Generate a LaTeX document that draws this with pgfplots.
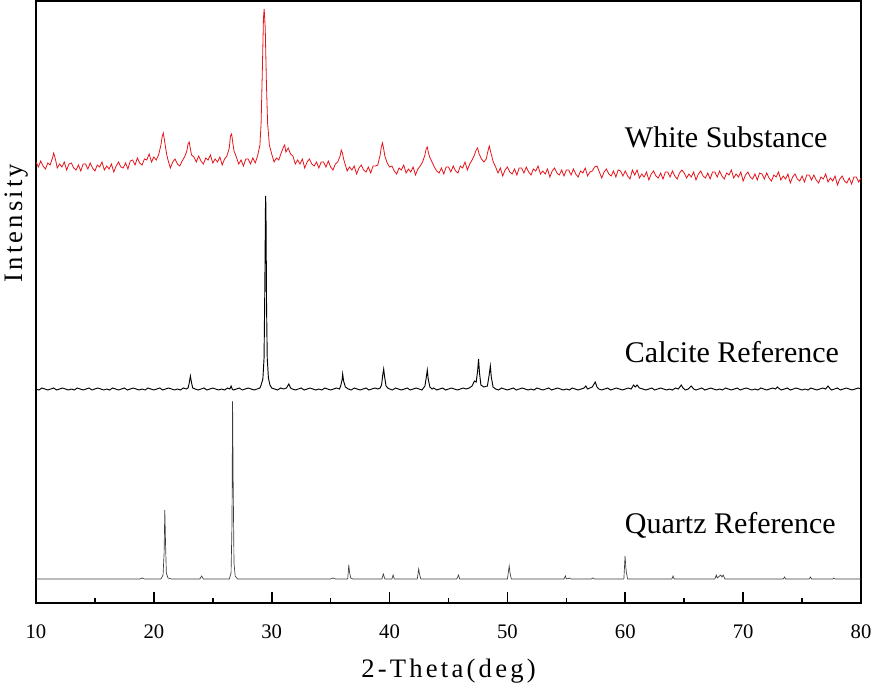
\documentclass[border=0pt]{standalone}
\usepackage{pgfplots}
\pgfplotsset{compat=1.18}
\usepackage{fontspec}
\setmainfont{Liberation Serif}
\newfontfamily\labfont[LetterSpace=12]{Liberation Serif}
\definecolor{wred}{RGB}{230,20,26}
\definecolor{qgray}{RGB}{60,60,60}

\pgfplotstableread{
x y
10.0 441
10.2 436
10.4 442
10.6 437
10.8 434
11.0 440
11.2 438
11.4 445
11.5 450
11.6 446
11.7 441
11.8 435
12.0 439
12.2 436
12.4 441
12.6 433
12.8 439
13.0 440
13.2 435
13.4 433
13.6 438
13.8 432
14.0 439
14.2 439
14.4 434
14.6 440
14.8 435
15.0 432
15.2 438
15.4 436
15.6 441
15.8 433
16.0 437
16.2 434
16.4 439
16.6 431
16.8 437
17.0 441
17.2 436
17.4 435
17.6 440
17.8 434
18.0 442
18.2 443
18.4 438
18.6 445
18.8 440
19.0 438
19.2 444
19.4 443
19.6 449
19.8 441
20.0 446
20.2 443
20.4 448
20.6 458
20.7 466
20.8 470
20.9 463
21.0 455
21.1 448
21.2 443
21.4 435
21.6 441
21.8 444
22.0 439
22.2 437
22.4 442
22.6 446
22.8 452
22.9 459
23.0 461
23.1 454
23.2 448
23.4 446
23.6 441
23.8 447
24.0 442
24.2 439
24.4 445
24.6 443
24.8 448
25.0 440
25.2 444
25.4 441
25.6 446
25.8 438
26.0 444
26.2 447
26.4 455
26.5 467
26.6 469
26.7 460
26.8 452
27.0 446
27.2 439
27.4 443
27.6 437
27.8 444
28.0 444
28.2 439
28.4 445
28.6 440
28.8 447
29.0 458
29.1 480
29.2 530
29.3 585
29.36 594
29.45 575
29.55 520
29.65 480
29.8 458
30.0 449
30.2 441
30.4 445
30.6 443
30.8 450
31.0 456
31.1 458
31.2 451
31.4 455
31.6 449
31.8 447
32.0 439
32.2 443
32.4 439
32.6 444
32.8 435
33.0 441
33.2 444
33.4 439
33.6 437
33.8 441
34.0 435
34.2 441
34.4 441
34.6 436
34.8 442
35.0 436
35.2 433
35.4 439
35.6 441
35.8 447
35.9 453
36.0 450
36.1 444
36.2 440
36.4 432
36.6 436
36.8 433
37.0 437
37.2 429
37.4 435
37.6 438
37.8 433
38.0 431
38.2 436
38.4 430
38.6 437
38.8 437
39.0 438
39.2 448
39.3 456
39.4 460
39.5 454
39.6 447
39.8 440
40.0 436
40.2 437
40.4 432
40.6 429
40.8 435
41.0 433
41.2 438
41.4 430
41.6 434
41.8 431
42.0 436
42.2 428
42.4 434
42.6 437
42.8 441
43.0 448
43.1 454
43.2 456
43.3 450
43.4 446
43.6 441
43.8 436
44.0 432
44.2 430
44.4 435
44.6 429
44.8 436
45.0 436
45.2 431
45.4 437
45.6 432
45.8 430
46.0 437
46.2 435
46.4 441
46.6 433
46.8 439
47.0 443
47.2 448
47.35 453
47.47 455
47.6 449
47.8 444
48.0 441
48.2 444
48.35 452
48.46 457
48.6 450
48.8 441
49.0 436
49.2 430
49.4 435
49.6 427
49.8 433
50.0 436
50.2 431
50.4 429
50.6 434
50.8 428
51.0 435
51.2 435
51.4 430
51.6 436
51.8 431
52.0 428
52.2 434
52.4 432
52.6 437
52.8 429
53.0 432
53.2 429
53.4 434
53.6 426
53.8 432
54.0 435
54.2 430
54.4 428
54.6 433
54.8 427
55.0 433
55.2 433
55.4 428
55.6 434
55.8 429
56.0 426
56.2 432
56.4 430
56.6 435
56.8 427
57.0 431
57.2 432
57.4 436
57.6 437
57.8 431
58.0 425
58.2 431
58.4 434
58.6 429
58.8 427
59.0 432
59.2 426
59.4 433
59.6 432
59.8 427
60.0 432
60.2 427
60.4 424
60.6 433
60.8 428
61.0 433
61.2 425
61.4 429
61.6 426
61.8 431
62.0 423
62.2 429
62.4 432
62.6 427
62.8 425
63.0 430
63.2 424
63.4 431
63.6 431
63.8 426
64.0 432
64.2 427
64.4 424
64.6 430
64.8 433
65.0 430
65.2 425
65.4 429
65.6 426
65.8 431
66.0 423
66.2 429
66.4 432
66.6 427
66.8 425
67.0 430
67.2 424
67.4 431
67.6 431
67.8 426
68.0 432
68.2 427
68.4 424
68.6 430
68.8 428
69.0 433
69.2 425
69.4 429
69.6 426
69.8 431
70.0 422
70.2 428
70.4 431
70.6 426
70.8 424
71.0 429
71.2 423
71.4 430
71.6 429
71.8 424
72.0 430
72.2 425
72.4 422
72.6 428
72.8 426
73.0 431
73.2 423
73.4 427
73.6 424
73.8 429
74.0 420
74.2 426
74.4 429
74.6 424
74.8 422
75.0 427
75.2 421
75.4 428
75.6 428
75.8 423
76.0 428
76.2 423
76.4 420
76.6 426
76.8 424
77.0 429
77.2 421
77.4 425
77.6 422
77.8 427
78.0 418
78.2 424
78.4 427
78.6 422
78.8 420
79.0 425
79.2 419
79.4 426
79.6 426
79.8 421
80.0 425
}\whitedata

\pgfplotstableread{
x y
10.00 214
10.25 213
10.50 215
10.75 214
11.00 213
11.25 214
11.50 215
11.75 213
12.00 214
12.25 215
12.50 214
12.75 213
13.00 214
13.25 213
13.50 215
13.75 214
14.00 213
14.25 214
14.50 215
14.75 213
15.00 214
15.25 215
15.50 214
15.75 213
16.00 214
16.25 213
16.50 215
16.75 214
17.00 213
17.25 214
17.50 215
17.75 213
18.00 214
18.25 215
18.50 214
18.75 213
19.00 214
19.25 213
19.50 215
19.75 214
20.00 213
20.25 214
20.50 215
20.75 213
21.00 214
21.25 215
21.50 214
21.75 213
22.00 214
22.25 213
22.50 215
22.75 214
22.9 215
23.0 220
23.1 227
23.2 220
23.3 215
23.50 214
23.75 213
24.00 214
24.25 215
24.50 213
24.75 214
25.00 215
25.25 214
25.50 213
25.75 214
26.00 213
26.25 215
26.45 214
26.55 217
26.65 214
26.75 213
27.00 214
27.25 215
27.50 213
27.75 214
28.00 215
28.25 214
28.50 213
28.75 214
29.00 215
29.1 218
29.25 224
29.35 245
29.42 320
29.47 395
29.49 407
29.52 380
29.56 300
29.62 245
29.72 225
29.85 218
30.00 215
30.25 214
30.50 213
30.75 215
31.00 214
31.25 215
31.45 219
31.6 215
31.75 214
32.00 213
32.25 214
32.50 215
32.75 213
33.00 214
33.25 215
33.50 214
33.75 213
34.00 214
34.25 213
34.50 215
34.75 214
35.00 213
35.25 214
35.50 215
35.75 214
35.85 217
35.97 223
36.02 229
36.1 222
36.25 216
36.50 214
36.75 213
37.00 215
37.25 214
37.50 213
37.75 214
38.00 215
38.25 213
38.50 214
38.75 215
39.00 214
39.20 215
39.32 218
39.42 228
39.5 234
39.58 226
39.7 217
39.85 215
40.00 214
40.25 213
40.50 215
40.75 214
41.00 213
41.25 214
41.50 215
41.75 213
42.00 214
42.25 215
42.50 214
42.75 213
43.0 217
43.12 226
43.2 233
43.28 224
43.42 216
43.6 214
43.75 215
44.00 213
44.25 214
44.50 215
44.75 213
45.00 214
45.25 215
45.50 214
45.75 213
46.00 214
46.25 215
46.50 214
46.75 215
47.0 217
47.2 222
47.35 221
47.47 232
47.55 244
47.63 230
47.75 218
48.0 216
48.3 217
48.45 228
48.55 237
48.63 226
48.78 216
49.00 214
49.25 213
49.50 215
49.75 214
50.00 213
50.25 214
50.50 215
50.75 213
51.00 214
51.25 215
51.50 214
51.75 213
52.00 214
52.25 213
52.50 215
52.75 214
53.00 213
53.25 214
53.50 215
53.75 213
54.00 214
54.25 215
54.50 214
54.75 213
55.00 214
55.25 213
55.50 215
55.75 214
56.00 213
56.25 214
56.50 215
56.65 217
56.8 214
57.00 215
57.2 216
57.45 221
57.6 216
57.75 214
58.00 213
58.25 214
58.50 215
58.75 213
59.00 214
59.25 215
59.50 214
59.75 213
60.00 214
60.25 215
60.50 214
60.7 218
60.85 216
61.0 218
61.2 215
61.50 214
61.75 213
62.00 214
62.25 215
62.50 213
62.75 214
63.00 215
63.25 214
63.50 213
63.75 214
64.00 213
64.25 215
64.50 214
64.75 218
64.9 215
65.10 213
65.35 214
65.6 217
65.8 214
66.00 213
66.25 214
66.50 215
66.75 213
67.00 214
67.25 215
67.50 214
67.75 213
68.00 214
68.25 213
68.50 215
68.75 214
69.00 213
69.25 214
69.50 215
69.75 213
70.00 214
70.25 215
70.50 214
70.75 213
71.00 214
71.25 213
71.50 215
71.75 214
72.00 213
72.25 214
72.50 215
72.75 214
72.9 216
73.10 214
73.25 213
73.50 214
73.75 215
74.00 213
74.25 214
74.50 215
74.75 214
75.00 213
75.25 214
75.50 213
75.75 215
76.00 214
76.25 213
76.50 214
76.75 215
77.00 214
77.2 217
77.4 214
77.50 213
77.75 214
78.00 215
78.25 213
78.50 214
78.75 215
79.00 214
79.25 213
79.50 214
79.75 215
80.00 214
}\calcitedata

\pgfplotstableread{
x y
10.0 24
18.8 24
19.0 25
19.2 24
20.6 24
20.78 28
20.87 50
20.93 93
20.99 60
21.06 30
21.2 25
21.5 24
23.9 24
24.05 27
24.2 24
26.4 24
26.55 30
26.63 80
26.68 202
26.73 120
26.8 40
26.9 27
27.1 24
35.0 24
35.2 25
35.4 24
36.45 24
36.54 38
36.6 31
36.7 25
36.9 24
39.35 24
39.47 29
39.6 24
40.2 24
40.3 28
40.4 24
42.35 24
42.47 34
42.54 29
42.65 24
45.7 24
45.85 28
45.95 24
50.0 24
50.15 37
50.22 30
50.33 24
54.8 24
54.92 27
55.0 24
55.3 25
55.4 24
57.1 24
57.25 25
57.4 24
59.88 24
59.98 47
60.05 35
60.1 30
60.2 24
63.95 24
64.05 27
64.15 24
67.6 24
67.72 28
67.8 25
68.1 28
68.2 26
68.3 28
68.45 24
73.4 24
73.52 26
73.6 24
75.6 24
75.72 26
75.8 24
77.6 24
77.7 25
77.8 24
80.0 24
}\quartzdata

\begin{document}
\begin{tikzpicture}
\begin{axis}[
  name=ax,
  scale only axis,
  width=618.75pt, height=451.5pt,
  xmin=10, xmax=80, ymin=0, ymax=602,
  xtick={10,20,...,80},
  minor x tick num=1,
  ytick=\empty,
  xtick pos=left,
  tick align=inside,
  major tick length=8pt,
  minor tick length=4pt,
  tick style={black, line width=1.2pt},
  axis line style={black, line width=0.8pt},
  /pgf/number format/assume math mode=true,
  xticklabel style={font=\fontsize{15.5}{18}\selectfont, yshift=-13pt},
  xlabel={\labfont 2-Theta(deg)},
  xlabel style={font=\fontsize{20}{24}\selectfont, at={(axis description cs:0.5,0)}, anchor=base, yshift=-55.5pt},
  ylabel={\labfont Intensity},
  ylabel style={font=\fontsize{20}{24}\selectfont, at={(axis description cs:-0.0235,0.631)}, anchor=center, rotate=0},
]
\addplot[color=wred, line width=0.6pt] table[x=x,y=y] {\whitedata};
\addplot[color=black, line width=0.7pt] table[x=x,y=y] {\calcitedata};
\addplot[color=qgray, line width=0.5pt] table[x=x,y=y] {\quartzdata};
\node[anchor=base west, inner sep=0pt, font=\fontsize{22.5}{26}\selectfont] at (axis cs:59.95,456) {White Substance};
\node[anchor=base west, inner sep=0pt, font=\fontsize{22.5}{26}\selectfont] at (axis cs:59.95,241) {Calcite Reference};
\node[anchor=base west, inner sep=0pt, font=\fontsize{22.5}{26}\selectfont] at (axis cs:59.95,70) {Quartz Reference};
\end{axis}
\pgfresetboundingbox
\useasboundingbox ([xshift=-27pt,yshift=-60pt]ax.south west) rectangle ([xshift=9pt,yshift=0.75pt]ax.north east);
\end{tikzpicture}
\end{document}
